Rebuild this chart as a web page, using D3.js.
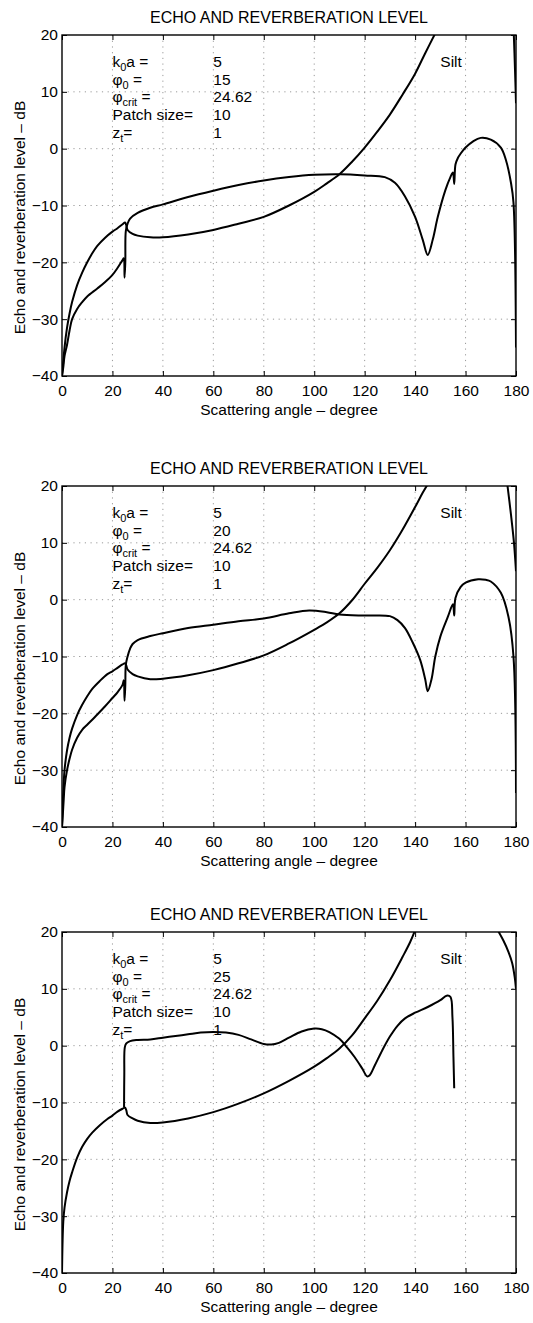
<!DOCTYPE html>
<html>
<head>
<meta charset="utf-8">
<script src="https://cdn.jsdelivr.net/npm/d3@7"></script>
<style>
  body{margin:0;background:#fff;}
  text{font-family:"Liberation Sans",Arial,Helvetica,sans-serif;fill:#000;}
</style>
</head>
<body>
<svg id="chart"></svg>
<script>
// angle (degree) , level (dB)
var reverb15 = [[0,-40],[0.5,-37.5],[1,-35],[2,-31.5],[3,-29],[4,-27],[6,-24],[8,-21.8],[10,-20],[12,-18.4],[14,-17.1],[17,-15.7],[20,-14.6],[22,-14],[24,-13.3],[25,-13],[25.5,-13.5],[26,-14.3],[28,-15],[30,-15.3],[35,-15.6],[40,-15.6],[50,-15.1],[60,-14.3],[70,-13.2],[80,-12],[90,-10],[100,-7.6],[105,-6.1],[110,-4.5],[115,-2.3],[120,0.2],[125,3],[130,6],[135,9.5],[140,13.2],[144,16.8],[148,20.3]];
var echo15 = [[0,-40],[0.5,-38.5],[1,-36.5],[2,-34.5],[3,-32],[4,-30],[6,-28.2],[8,-27],[10,-26],[14,-24.6],[17,-23.5],[20,-22.2],[22,-21],[24,-19.6],[24.5,-19.3],[24.8,-22.7],[25.1,-20],[25.3,-14.5],[26,-13.2],[27,-12.3],[30,-11.3],[35,-10.4],[40,-9.8],[50,-8.5],[60,-7.4],[70,-6.4],[80,-5.6],[90,-5],[100,-4.6],[110,-4.5],[120,-4.7],[128,-5],[132,-6],[136,-8.4],[140,-12],[143,-16],[145,-18.7],[147,-16],[149,-12],[152,-7.3],[154,-5],[155,-4.2],[155.5,-6.2],[156,-2.8],[157,-1.6],[158,-0.9],[160,0.2],[163,1.3],[166,1.9],[170,1.6],[174,0.2],[176,-2],[178,-6],[179,-9.5],[180,-35]];
var tail15 = [[179.1,20.5],[179.6,14],[180,8]];

var reverb20 = [[0,-40],[0.3,-36],[0.7,-32],[1,-30],[2,-26.5],[3,-24.3],[4,-22.7],[6,-20.3],[8,-18.5],[10,-17],[12,-15.7],[15,-14.3],[18,-13.1],[20,-12.6],[22,-12],[24,-11.4],[25,-11.2],[25.5,-11.6],[26,-12.3],[28,-13.1],[30,-13.5],[35,-14],[40,-13.9],[50,-13.3],[60,-12.4],[70,-11.2],[80,-9.8],[90,-7.7],[100,-5.3],[105,-4],[110,-2.4],[115,-0.1],[120,2.8],[125,5.6],[130,8.7],[135,12.3],[140,16.3],[143,18.8],[145,20.3]];
var echo20 = [[0,-40],[0.3,-38],[0.7,-35],[1,-33],[2,-30],[3,-28],[4,-26.4],[6,-24.3],[8,-22.9],[10,-22],[14,-20.2],[17,-18.8],[20,-17.3],[22,-16.3],[24,-15],[24.5,-14.2],[24.8,-17.8],[25.1,-15],[25.3,-11.5],[26,-10],[27,-8.6],[28,-7.8],[30,-7.1],[35,-6.4],[40,-5.9],[50,-5],[60,-4.4],[70,-3.8],[80,-3.3],[90,-2.4],[98,-1.9],[105,-2.2],[110,-2.6],[120,-2.8],[130,-2.9],[133,-3.6],[136,-5],[139,-7.5],[142,-10.6],[144,-14],[145,-16.1],[146.5,-14],[148,-10],[150,-6.5],[153,-3],[155,-0.8],[155.5,-2.8],[156,0.3],[158,2.2],[160,3],[165,3.6],[168,3.5],[170,3.2],[174,1.2],[177,-3],[179,-10],[180,-34]];
var tail20 = [[176.5,20.5],[178,15],[179.2,10],[180,5]];

var reverb25 = [[0,-40],[0.2,-35],[0.5,-31],[1,-28.5],[2,-25.8],[3,-23.8],[4,-22.3],[6,-19.7],[8,-17.8],[10,-16.4],[12,-15.3],[15,-14],[18,-12.9],[20,-12.3],[22,-11.6],[24,-11.1],[25,-10.9],[25.5,-11.4],[26,-12.2],[28,-12.8],[30,-13.2],[35,-13.6],[40,-13.5],[50,-12.8],[60,-11.7],[70,-10.2],[80,-8.4],[90,-6.2],[100,-3.7],[105,-2.2],[110,-0.5],[115,1.8],[120,4.8],[125,7.9],[130,11.5],[135,15.6],[138,18.2],[140,20.3]];
var echo25 = [[24.6,-10.8],[24.7,-5],[24.9,-0.3],[25.5,0.4],[27,0.8],[30,1],[35,1.1],[40,1.4],[45,1.7],[50,2],[55,2.3],[60,2.4],[65,2.3],[70,1.9],[75,1.1],[80,0.3],[83,0.2],[86,0.5],[90,1.4],[95,2.5],[100,3],[103,2.9],[106,2.4],[110,1.2],[113,-0.3],[116,-2],[119,-4],[121,-5.4],[122,-5.2],[124,-3.5],[127,-0.8],[130,1.6],[133,3.5],[136,4.8],[140,5.8],[145,6.8],[150,8],[152.5,8.8],[154,8.6],[154.8,5],[155.2,-2],[155.5,-7.5]];
var tail25 = [[172.5,20.5],[175,18.5],[177,16.5],[178.5,14.5],[179.5,12],[180,10]];

var xTicks = [0,20,40,60,80,100,120,140,160,180];
var yTicks = [-40,-30,-20,-10,0,10,20];

var phi0Values = ["15","20","25"];
var paramValues = ["5", null, "24.62", "10", "1"];
var titleText = "ECHO AND REVERBERATION LEVEL";
var xLabelText = "Scattering angle \u2013 degree";
var yLabelText = "Echo and reverberation level \u2013 dB";
var soilText = "Silt";

var panels = [
  {top:35, reverb:reverb15, echo:echo15, tail:tail15, phi0:phi0Values[0]},
  {top:486, reverb:reverb20, echo:echo20, tail:tail20, phi0:phi0Values[1]},
  {top:932, reverb:reverb25, echo:echo25, tail:tail25, phi0:phi0Values[2]}
];

var svgwidth = 533, svgheight = 1323;
var left = 62, width = 454, height = 341;

var svg = d3.select('#chart')
            .attr('width',svgwidth)
            .attr('height',svgheight);

var xScale = d3.scaleLinear().domain([0,180]).range([0,width]);
var yScale = d3.scaleLinear().domain([-40,20]).range([height,0]);

var linemake = d3.line()
                 .curve(d3.curveCatmullRom.alpha(0.5))
                 .x(function(d){return xScale(d[0]);})
                 .y(function(d){return yScale(d[1]);});

var drawPanel = function(p,i){

  var g = svg.append('g')
             .attr('transform','translate('+left+','+p.top+')');

  g.append('clipPath').attr('id','clip'+i)
   .append('rect').attr('width',width).attr('height',height);

  // dotted grid
  g.selectAll('.vgrid').data(xTicks.slice(1,-1)).enter()
   .append('line')
   .attr('x1',function(d){return xScale(d);})
   .attr('x2',function(d){return xScale(d);})
   .attr('y1',0).attr('y2',height)
   .attr('stroke','#9a9a9a').attr('stroke-width',1)
   .attr('stroke-dasharray','1.2,4.5');

  g.selectAll('.hgrid').data(yTicks.slice(1,-1)).enter()
   .append('line')
   .attr('y1',function(d){return yScale(d);})
   .attr('y2',function(d){return yScale(d);})
   .attr('x1',0).attr('x2',width)
   .attr('stroke','#9a9a9a').attr('stroke-width',1)
   .attr('stroke-dasharray','1.2,4.5');

  var xAxis = d3.axisBottom(xScale).tickValues(xTicks).tickSizeInner(-5).tickSizeOuter(0).tickPadding(9);
  var yAxis = d3.axisLeft(yScale).tickValues(yTicks).tickSizeInner(-5).tickSizeOuter(0).tickPadding(4);
  var xTop = d3.axisTop(xScale).tickValues(xTicks).tickSizeInner(-5).tickSizeOuter(0).tickFormat('');
  var yRight = d3.axisRight(yScale).tickValues(yTicks).tickSizeInner(-5).tickSizeOuter(0).tickFormat('');

  var axes = [
    g.append('g').attr('transform','translate(0,'+height+')').call(xAxis),
    g.append('g').call(yAxis),
    g.append('g').call(xTop),
    g.append('g').attr('transform','translate('+width+',0)').call(yRight)
  ];
  axes.forEach(function(a){
    a.select('.domain').remove();
    a.selectAll('line').attr('stroke','#000').attr('stroke-width',1);
    a.selectAll('text').style('font-size','15.5px').attr('fill','#000');
  });

  g.append('rect')
   .attr('width',width).attr('height',height)
   .attr('fill','none').attr('stroke','#000').attr('stroke-width',1.4);

  var curves = g.append('g').attr('clip-path','url(#clip'+i+')');
  [p.reverb,p.echo,p.tail].forEach(function(s){
    curves.append('path')
          .datum(s)
          .attr('d',linemake)
          .attr('fill','none')
          .attr('stroke','#000')
          .attr('stroke-width',2)
          .attr('stroke-linejoin','round');
  });

  // parameter block
  var rows = [
    {main:'k', sub:'0', rest:'a =', val:paramValues[0]},
    {main:'\u03c6', sub:'0', rest:' =', val:p.phi0},
    {main:'\u03c6', sub:'crit', rest:' =', val:paramValues[2]},
    {main:'Patch size=', sub:null, rest:'', val:paramValues[3]},
    {main:'z', sub:'t', rest:'=', val:paramValues[4]}
  ];
  rows.forEach(function(r,k){
    var yy = 32 + k*17.7;
    var t = g.append('text')
             .attr('x',xScale(20)).attr('y',yy)
             .style('font-size','15.5px');
    t.append('tspan').text(r.main);
    if(r.sub){
      t.append('tspan').attr('dy',4).style('font-size','11px').text(r.sub);
      t.append('tspan').attr('dy',-4).text(r.rest);
    }
    g.append('text')
     .attr('x',xScale(60)).attr('y',yy)
     .style('font-size','15.5px')
     .text(r.val);
  });

  g.append('text')
   .attr('x',xScale(150)).attr('y',32)
   .style('font-size','15.5px')
   .text(soilText);

  g.append('text')
   .attr('x',width/2).attr('y',-12)
   .attr('text-anchor','middle')
   .style('font-size','16px')
   .text(titleText);

  g.append('text')
   .attr('x',width/2).attr('y',height+39)
   .attr('text-anchor','middle')
   .style('font-size','15.5px')
   .text(xLabelText);

  g.append('text')
   .attr('transform','translate('+(25-left)+','+(height/2+12)+') rotate(-90)')
   .attr('text-anchor','middle')
   .style('font-size','15.5px')
   .text(yLabelText);
};

panels.forEach(drawPanel);
</script>
</body>
</html>
